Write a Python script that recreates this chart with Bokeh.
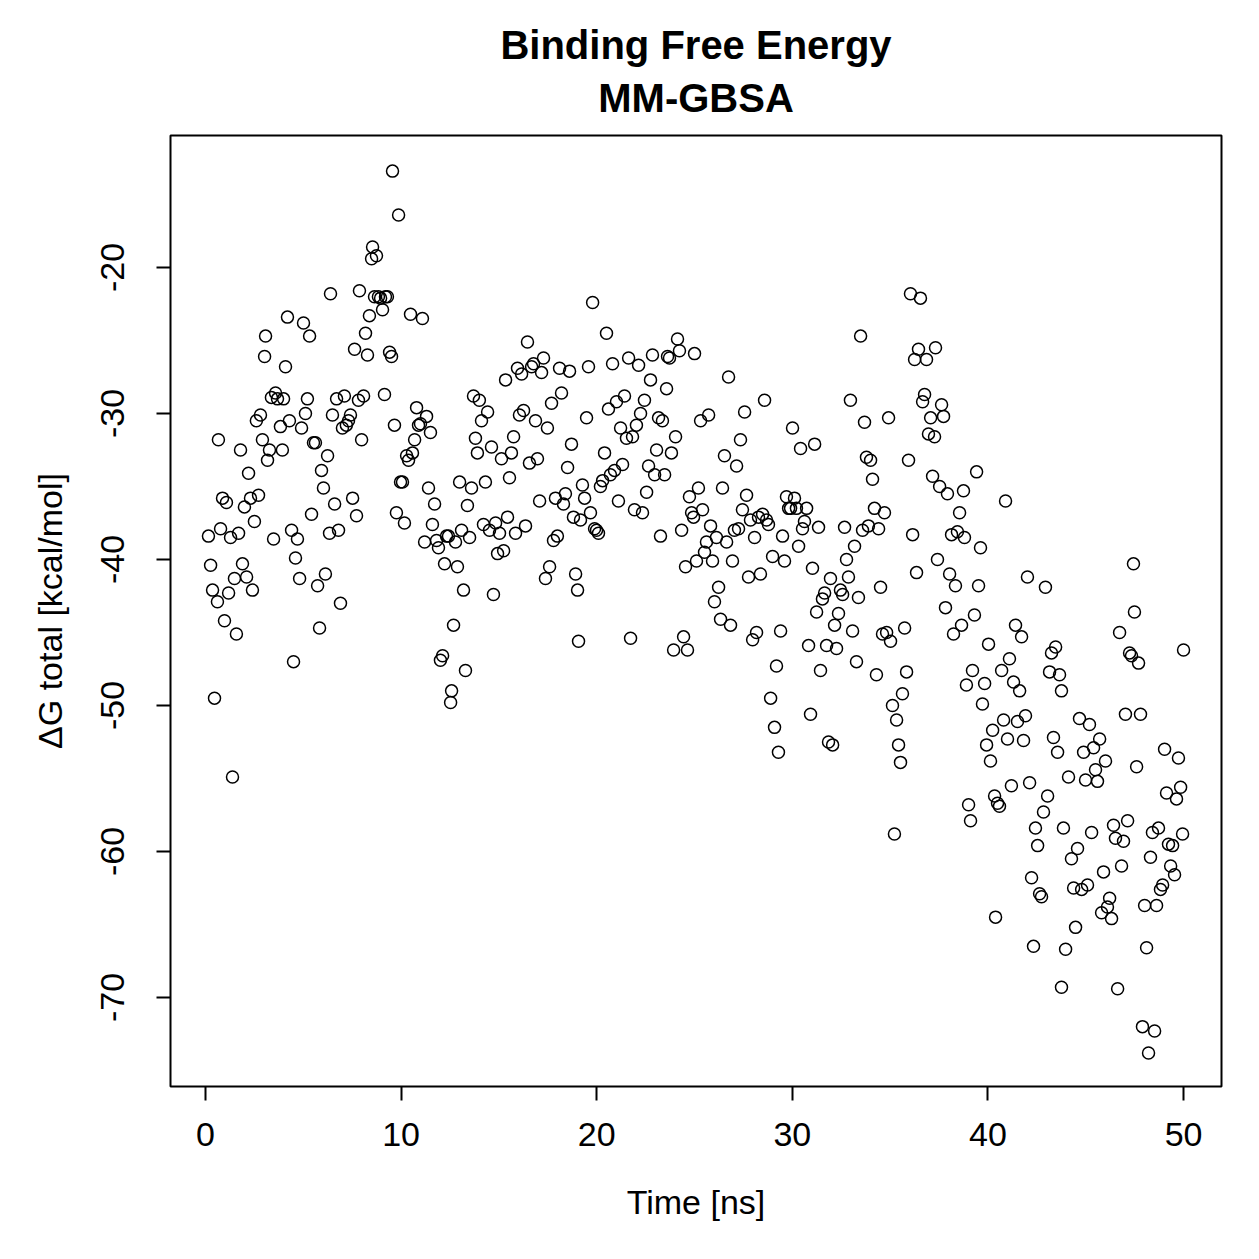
from bokeh.plotting import figure
from bokeh.models import FixedTicker, Range1d, Title, ColumnDataSource
from bokeh.embed import file_html
from bokeh.resources import INLINE

FONT = "Liberation Sans"

# Simulation time of each MM-GBSA frame [ns]
time_ns = [
    0.15, 0.26, 0.36, 0.46, 0.61, 0.66, 0.77, 0.87, 0.97, 1.07,
    1.18, 1.28, 1.38, 1.48, 1.58, 1.69, 1.79, 1.89, 1.99, 2.10,
    2.20, 2.30, 2.40, 2.50, 2.60, 2.71, 2.81, 2.91, 3.02, 3.07,
    3.17, 3.27, 3.37, 3.48, 3.58, 3.68, 3.83, 3.93, 3.99, 4.09,
    4.19, 4.29, 4.40, 4.50, 4.60, 4.70, 4.81, 4.91, 5.01, 5.11,
    5.21, 5.32, 5.42, 5.52, 5.62, 5.73, 5.83, 5.93, 6.03, 6.13,
    6.24, 6.34, 6.39, 6.49, 6.60, 6.70, 6.80, 6.90, 7.00, 7.10,
    7.20, 7.31, 7.41, 7.52, 7.62, 7.72, 7.82, 7.87, 7.98, 8.08,
    8.18, 8.28, 8.38, 8.49, 8.54, 8.64, 8.74, 8.84, 8.95, 9.05,
    9.15, 9.20, 9.30, 9.41, 9.51, 9.56, 9.66, 9.76, 9.87, 9.97,
    10.07, 10.17, 10.28, 10.38, 10.48, 10.58, 10.69, 10.79, 10.89, 10.99,
    11.09, 11.20, 11.30, 11.40, 11.50, 11.60, 11.71, 11.81, 11.91, 12.01,
    12.12, 12.22, 12.32, 12.42, 12.53, 12.58, 12.68, 12.78, 12.88, 12.99,
    13.09, 13.19, 13.29, 13.39, 13.50, 13.60, 13.70, 13.80, 13.90, 14.00,
    14.11, 14.21, 14.31, 14.42, 14.52, 14.62, 14.72, 14.83, 14.93, 15.03,
    15.13, 15.24, 15.34, 15.44, 15.54, 15.64, 15.75, 15.85, 15.95, 16.05,
    16.16, 16.26, 16.36, 16.46, 16.56, 16.67, 16.77, 16.87, 16.97, 17.08,
    17.18, 17.28, 17.38, 17.48, 17.59, 17.69, 17.79, 17.89, 17.99, 18.10,
    18.20, 18.30, 18.40, 18.51, 18.61, 18.71, 18.81, 18.92, 19.02, 19.07,
    19.17, 19.27, 19.38, 19.48, 19.58, 19.68, 19.79, 19.89, 19.99, 20.09,
    20.19, 20.30, 20.40, 20.50, 20.60, 20.70, 20.81, 20.91, 21.01, 21.11,
    21.22, 21.32, 21.42, 21.52, 21.63, 21.73, 21.83, 21.93, 22.03, 22.14,
    22.24, 22.34, 22.44, 22.55, 22.65, 22.75, 22.85, 22.96, 23.06, 23.16,
    23.26, 23.36, 23.47, 23.57, 23.62, 23.72, 23.82, 23.93, 24.03, 24.13,
    24.23, 24.34, 24.44, 24.54, 24.64, 24.74, 24.85, 24.95, 25.00, 25.10,
    25.20, 25.31, 25.41, 25.51, 25.61, 25.72, 25.82, 25.92, 26.02, 26.12,
    26.23, 26.33, 26.43, 26.53, 26.64, 26.74, 26.84, 26.94, 27.04, 27.15,
    27.25, 27.35, 27.45, 27.56, 27.66, 27.76, 27.86, 27.97, 28.07, 28.17,
    28.27, 28.37, 28.48, 28.58, 28.68, 28.78, 28.89, 28.99, 29.09, 29.19,
    29.29, 29.40, 29.50, 29.60, 29.70, 29.81, 29.91, 30.01, 30.11, 30.21,
    30.32, 30.42, 30.52, 30.62, 30.73, 30.83, 30.93, 31.03, 31.14, 31.24,
    31.34, 31.44, 31.54, 31.65, 31.75, 31.85, 31.95, 32.06, 32.16, 32.26,
    32.36, 32.46, 32.57, 32.67, 32.77, 32.87, 32.97, 33.08, 33.18, 33.28,
    33.38, 33.49, 33.59, 33.69, 33.79, 33.89, 34.00, 34.10, 34.20, 34.30,
    34.41, 34.51, 34.61, 34.71, 34.82, 34.92, 35.02, 35.12, 35.22, 35.33,
    35.43, 35.53, 35.63, 35.74, 35.84, 35.94, 36.04, 36.15, 36.25, 36.35,
    36.45, 36.55, 36.66, 36.76, 36.86, 36.96, 37.07, 37.17, 37.27, 37.32,
    37.42, 37.53, 37.63, 37.73, 37.83, 37.93, 38.04, 38.14, 38.24, 38.34,
    38.44, 38.55, 38.65, 38.75, 38.80, 38.90, 39.01, 39.11, 39.21, 39.31,
    39.42, 39.52, 39.62, 39.72, 39.83, 39.93, 40.03, 40.13, 40.24, 40.34,
    40.39, 40.49, 40.59, 40.70, 40.80, 40.90, 41.00, 41.10, 41.20, 41.31,
    41.41, 41.51, 41.62, 41.72, 41.82, 41.92, 42.02, 42.13, 42.23, 42.33,
    42.43, 42.54, 42.64, 42.74, 42.84, 42.94, 43.05, 43.15, 43.25, 43.35,
    43.46, 43.56, 43.66, 43.76, 43.76, 43.86, 43.97, 44.12, 44.27, 44.38,
    44.48, 44.58, 44.68, 44.79, 44.89, 44.99, 45.09, 45.19, 45.30, 45.40,
    45.50, 45.60, 45.71, 45.81, 45.91, 46.01, 46.11, 46.22, 46.32, 46.42,
    46.52, 46.63, 46.73, 46.83, 46.93, 47.03, 47.14, 47.24, 47.34, 47.44,
    47.49, 47.60, 47.70, 47.80, 47.90, 48.01, 48.11, 48.21, 48.31, 48.41,
    48.52, 48.62, 48.72, 48.82, 48.93, 49.03, 49.13, 49.23, 49.34, 49.44,
    49.54, 49.64, 49.74, 49.85, 49.95, 50.00,
]

# Total binding free energy per frame [kcal/mol]
dg_total = [
    -38.4, -40.4, -42.1, -49.5, -42.9, -31.8, -37.9, -35.8, -44.2, -36.1,
    -42.3, -38.5, -54.9, -41.3, -45.1, -38.2, -32.5, -40.3, -36.4, -41.2,
    -34.1, -35.8, -42.1, -37.4, -30.5, -35.6, -30.1, -31.8, -26.1, -24.7,
    -33.2, -32.5, -28.9, -38.6, -28.6, -29.0, -30.9, -32.5, -29.0, -26.8,
    -23.4, -30.5, -38.0, -47.0, -39.9, -38.6, -41.3, -31.0, -23.8, -30.0,
    -29.0, -24.7, -36.9, -32.0, -32.0, -41.8, -44.7, -33.9, -35.1, -41.0,
    -32.9, -38.2, -21.8, -30.1, -36.2, -29.0, -38.0, -43.0, -31.0, -28.8,
    -30.8, -30.5, -30.1, -35.8, -25.6, -37.0, -29.1, -21.6, -31.8, -28.8,
    -24.5, -26.0, -23.3, -19.4, -18.6, -22.0, -19.2, -22.0, -22.1, -22.9,
    -28.7, -22.0, -22.0, -25.8, -26.1, -13.4, -30.8, -36.8, -16.4, -34.7,
    -34.7, -37.5, -32.9, -33.2, -23.2, -32.7, -31.8, -29.6, -30.8, -30.7,
    -23.5, -38.8, -30.2, -35.1, -31.3, -37.6, -36.2, -38.7, -39.2, -46.9,
    -46.6, -40.3, -38.4, -38.4, -49.8, -49.0, -44.5, -38.8, -40.5, -34.7,
    -38.0, -42.1, -47.6, -36.3, -38.5, -35.1, -28.8, -31.7, -32.7, -29.1,
    -30.5, -37.6, -34.7, -29.9, -38.0, -32.3, -42.4, -37.5, -39.6, -38.2,
    -33.1, -39.4, -27.7, -37.1, -34.4, -32.7, -31.6, -38.2, -26.9, -30.1,
    -27.3, -29.8, -37.7, -25.1, -33.4, -26.8, -26.6, -30.5, -33.1, -36.0,
    -27.2, -26.2, -41.3, -31.0, -40.5, -29.3, -38.7, -35.8, -38.4, -26.9,
    -28.6, -36.2, -35.5, -33.7, -27.1, -32.1, -37.1, -41.0, -42.1, -45.6,
    -37.3, -34.9, -35.8, -30.3, -26.8, -36.8, -22.4, -37.9, -38.0, -38.2,
    -35.0, -34.6, -32.7, -24.5, -29.7, -34.2, -26.6, -33.9, -29.2, -36.0,
    -31.0, -33.5, -28.8, -31.7, -26.2, -45.4, -31.6, -36.6, -30.8, -26.7,
    -30.0, -36.8, -29.1, -35.4, -33.6, -27.7, -26.0, -34.2, -32.5, -30.3,
    -38.4, -30.5, -34.2, -28.3, -26.1, -26.2, -32.7, -46.2, -31.6, -24.9,
    -25.7, -38.0, -45.3, -40.5, -46.2, -35.7, -36.8, -37.1, -25.9, -40.1,
    -35.1, -30.5, -36.6, -39.5, -38.8, -30.1, -37.7, -40.1, -42.9, -38.5,
    -41.9, -44.1, -35.1, -32.9, -38.8, -27.5, -44.5, -40.1, -38.0, -33.6,
    -37.9, -31.8, -36.6, -29.9, -35.6, -41.2, -37.3, -45.5, -38.5, -45.0,
    -37.1, -41.0, -36.9, -29.1, -37.3, -37.6, -49.5, -39.8, -51.5, -47.3,
    -53.2, -44.9, -38.4, -40.1, -35.7, -36.5, -36.5, -31.0, -35.8, -36.5,
    -39.1, -32.4, -37.9, -37.4, -36.5, -45.9, -50.6, -40.6, -32.1, -43.6,
    -37.8, -47.6, -42.7, -42.3, -45.9, -52.5, -41.3, -52.7, -44.5, -46.1,
    -43.7, -42.1, -42.4, -37.8, -40.0, -41.2, -29.1, -44.9, -39.1, -47.0,
    -42.6, -24.7, -38.0, -30.6, -33.0, -37.7, -33.2, -34.5, -36.5, -47.9,
    -37.9, -41.9, -45.1, -36.8, -45.0, -30.3, -45.6, -50.0, -58.8, -51.0,
    -52.7, -53.9, -49.2, -44.7, -47.7, -33.2, -21.8, -38.3, -26.3, -40.9,
    -25.6, -22.1, -29.2, -28.7, -26.3, -31.4, -30.3, -34.3, -31.6, -25.5,
    -40.0, -35.0, -29.4, -30.2, -43.3, -35.5, -41.0, -38.3, -45.1, -41.8,
    -38.1, -36.8, -44.5, -35.3, -38.5, -48.6, -56.8, -57.9, -47.6, -43.8,
    -34.0, -41.8, -39.2, -49.9, -48.5, -52.7, -45.8, -53.8, -51.7, -56.2,
    -64.5, -56.7, -56.9, -47.6, -51.0, -36.0, -52.3, -46.8, -55.5, -48.4,
    -44.5, -51.1, -49.0, -45.3, -52.4, -50.7, -41.2, -55.3, -61.8, -66.5,
    -58.4, -59.6, -62.9, -63.1, -57.3, -41.9, -56.2, -47.7, -46.4, -52.2,
    -46.0, -53.2, -47.9, -49.0, -69.3, -58.4, -66.7, -54.9, -60.5, -62.5,
    -65.2, -59.8, -50.9, -62.6, -53.2, -55.1, -62.3, -51.3, -58.7, -52.9,
    -54.4, -55.2, -52.3, -64.2, -61.4, -53.8, -63.8, -63.2, -64.6, -58.2,
    -59.1, -69.4, -45.0, -61.0, -59.3, -50.6, -57.9, -46.4, -46.6, -40.3,
    -43.6, -54.2, -47.1, -50.6, -72.0, -63.7, -66.6, -73.8, -60.4, -58.7,
    -72.3, -63.7, -58.4, -62.6, -62.3, -53.0, -56.0, -59.5, -61.0, -59.6,
    -61.6, -56.4, -53.6, -55.6, -58.8, -46.2,
]

assert len(time_ns) == len(dg_total)

x_ticks = [0, 10, 20, 30, 40, 50]
y_ticks = [-70, -60, -50, -40, -30, -20]

source = ColumnDataSource(data=dict(t=time_ns, dg=dg_total))

p = figure(
    width=1259, height=1259,
    output_backend="svg", toolbar_location=None,
    x_range=Range1d(-1.79, 51.94), y_range=Range1d(-76.1, -10.96),
    min_border_left=170, min_border_right=38,
    min_border_top=135, min_border_bottom=173,
    title="Binding Free Energy",
)

# two-line bold title centred over the plot box (later titles sit nearer the box)
p.title.align = "center"
p.title.text_font = FONT
p.title.text_font_size = "40px"
p.title.text_font_style = "bold"
p.title.text_color = "black"
p.title.standoff = -19
p.add_layout(Title(text="MM-GBSA", align="center", text_font=FONT,
                   text_font_size="40px", text_font_style="bold",
                   text_color="black", standoff=32), "above")

p.background_fill_color = "white"
p.border_fill_color = "white"
p.grid.visible = False
p.outline_line_color = "black"
p.outline_line_width = 2
p.outline_line_alpha = 1.0

p.scatter("t", "dg", source=source, marker="circle", size=12,
          fill_color=None, line_color="black", line_width=1.5)

for ax, ticks in ((p.xaxis, x_ticks), (p.yaxis, y_ticks)):
    ax.ticker = FixedTicker(ticks=ticks)
    ax.major_label_overrides = {v: str(v) for v in ticks}
    ax.axis_line_color = None
    ax.major_tick_line_color = "black"
    ax.major_tick_line_width = 2
    ax.major_tick_out = 14
    ax.major_tick_in = 0
    ax.minor_tick_line_color = None
    ax.major_label_text_font = FONT
    ax.major_label_text_font_size = "34px"
    ax.major_label_text_color = "black"
    ax.axis_label_text_font = FONT
    ax.axis_label_text_font_size = "34px"
    ax.axis_label_text_font_style = "normal"
    ax.axis_label_text_color = "black"

p.xaxis.axis_label = "Time [ns]"
p.xaxis.major_label_standoff = 22
p.xaxis.axis_label_standoff = 34

p.yaxis.axis_label = "ΔG total [kcal/mol]"
p.yaxis.major_label_orientation = "vertical"
p.yaxis.major_label_standoff = 32
p.yaxis.axis_label_standoff = 30

with open("out.html", "w") as f:
    f.write(file_html(p, INLINE))
